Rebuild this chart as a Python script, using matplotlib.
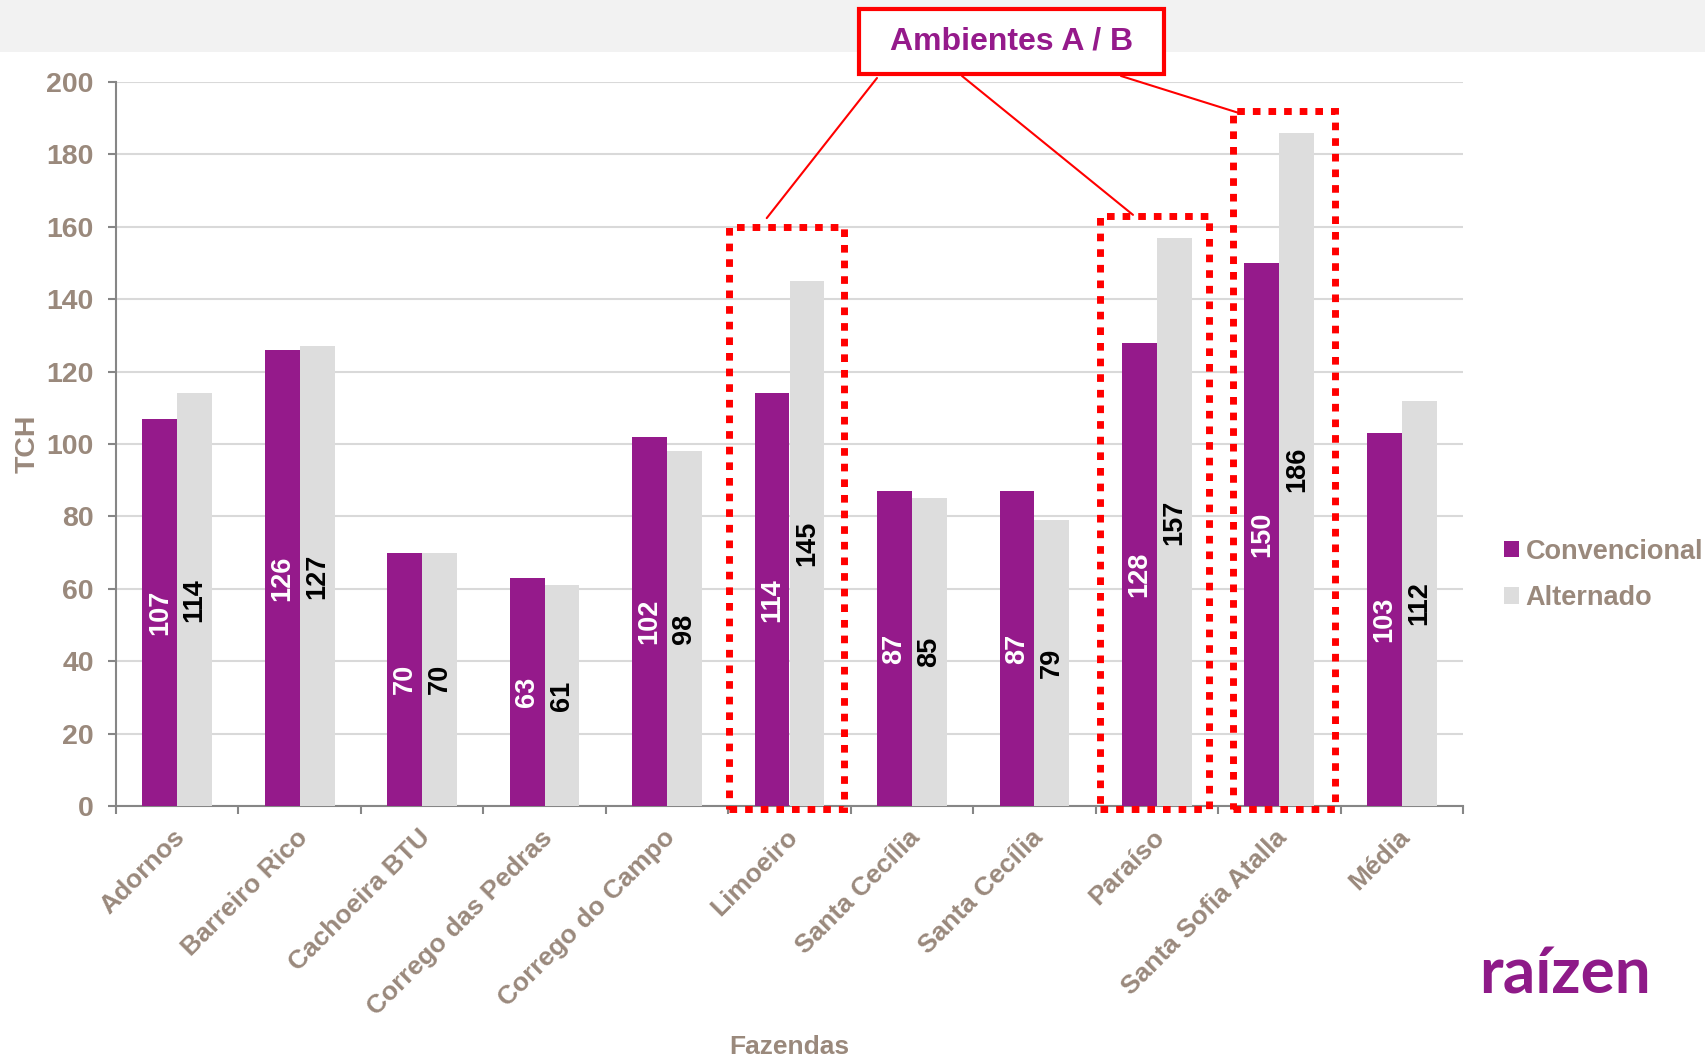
import matplotlib
matplotlib.use("Agg")
import matplotlib.pyplot as plt
import numpy as np
from matplotlib.patches import Rectangle, ConnectionPatch

plt.rcParams['font.family'] = ['Liberation Sans', 'DejaVu Sans']
plt.rcParams['font.weight'] = 'bold'

categories = ["Adornos", "Barreiro Rico", "Cachoeira BTU", "Corrego das Pedras",
              "Corrego do Campo", "Limoeiro", "Santa Cecília", "Santa Cecília",
              "Paraíso", "Santa Sofia Atalla", "Média"]
convencional = [107, 126, 70, 63, 102, 114, 87, 87, 128, 150, 103]
alternado = [114, 127, 70, 61, 98, 145, 85, 79, 157, 186, 112]
series_names = ["Convencional", "Alternado"]
highlight_idx = [5, 8, 9]
highlight_top = [160, 163, 192]
yticks = list(range(0, 201, 20))

PURPLE = "#951a8b"
GRAY = "#dddddd"
TXT = "#9a897c"
RED = "#ff0000"

W, H = 1706, 1058
fig = plt.figure(figsize=(W / 100, H / 100), dpi=100)
fig.patch.set_facecolor("white")

# top grey band
fig.add_artist(Rectangle((0, 1 - 52 / H), 1, 52 / H, transform=fig.transFigure,
                         facecolor="#f2f2f2", edgecolor="none", zorder=0))

ax = fig.add_axes([116 / W, 1 - 806 / H, (1463 - 116) / W, (806 - 82) / H])
x = np.arange(len(categories))
bw = 0.285
b1 = ax.bar(x - bw / 2, convencional, bw, color=PURPLE, label=series_names[0], zorder=3)
b2 = ax.bar(x + bw / 2, alternado, bw, color=GRAY, label=series_names[1], zorder=3)

for rect, v in zip(b1, convencional):
    ax.text(rect.get_x() + rect.get_width() / 2, v / 2, str(v), rotation=90,
            ha="center", va="center", color="white", fontsize=19.5, fontweight="bold", zorder=4)
for rect, v in zip(b2, alternado):
    ax.text(rect.get_x() + rect.get_width() / 2, v / 2, str(v), rotation=90,
            ha="center", va="center", color="black", fontsize=19.5, fontweight="bold", zorder=4)

ax.set_xlim(-0.5, len(categories) - 0.5)
ax.set_ylim(0, 200)
ax.set_yticks(yticks)
ax.yaxis.grid(True, color="#d9d9d9", lw=1.5, zorder=0)
ax.set_axisbelow(True)
for s in ["top", "right"]:
    ax.spines[s].set_visible(False)
for s in ["left", "bottom"]:
    ax.spines[s].set_color("#868686")
    ax.spines[s].set_linewidth(1.5)

ax.tick_params(axis="y", colors="#868686", labelcolor=TXT, labelsize=20.5, length=6,
               width=1.5, pad=10)
ax.set_xticks(np.arange(-0.5, len(categories)), minor=False)
ax.set_xticklabels([])
ax.tick_params(axis="x", which="major", colors="#868686", length=6, width=1.5)
# category labels, end of text sitting just right of the group centre
ax.set_xticks(x + 0.035, minor=True)
ax.set_xticklabels(categories, minor=True, rotation=45, ha="right", va="center",
                   rotation_mode="anchor", color=TXT, fontsize=19, fontweight="bold")
ax.tick_params(axis="x", which="minor", length=0, pad=20)
for lab in ax.get_yticklabels():
    lab.set_fontweight("bold")

ax.set_ylabel("TCH", color=TXT, fontsize=20.5, fontweight="bold", labelpad=4)
ax.set_xlabel("Fazendas", color=TXT, fontsize=19, fontweight="bold")
ax.xaxis.set_label_coords(0.5, -(1047 - 806) / (806 - 82))
ax.xaxis.label.set_va("center")

# dotted highlight boxes
box_left_off = {5: 0.004, 8: 0.036, 9: 0.125}
box_right_off = {5: 0.445, 8: 0.424, 9: 0.452}
for i, top in zip(highlight_idx, highlight_top):
    left = i - 0.5 + box_left_off[i]
    right = i + box_right_off[i]
    r = Rectangle((left, -0.8), right - left, top + 0.8, fill=False, edgecolor=RED,
                  lw=5.0, linestyle=(0, (1.1, 1.15)), clip_on=False, zorder=5)
    r.set_capstyle("butt")
    ax.add_patch(r)

# annotation box
bx0, bx1, by0, by1 = 859, 1164, 9, 74
fig.add_artist(Rectangle((bx0 / W, 1 - by1 / H), (bx1 - bx0) / W, (by1 - by0) / H,
                         transform=fig.transFigure, facecolor="white", edgecolor=RED,
                         lw=3, zorder=6))
fig.text((bx0 + bx1) / 2 / W, 1 - 41 / H, "Ambientes A / B", color=PURPLE,
         fontsize=23, fontweight="bold", ha="center", va="center", zorder=7)

# connector lines
starts = [(877, 78), (962, 76), (1121, 76)]
ends = [(4.814, 162.4), (7.805, 163.3), (8.693, 191.2)]
for (sx, sy), (ex, ey) in zip(starts, ends):
    cp = ConnectionPatch(xyA=(sx / W, 1 - sy / H), coordsA="figure fraction",
                         xyB=(ex, ey), coordsB="data", axesB=ax,
                         color=RED, lw=1.5, zorder=6)
    fig.add_artist(cp)

# legend
leg = fig.legend(handles=[b1, b2], labels=series_names, loc="center left",
                 bbox_to_anchor=(1493 / W, 1 - 575 / H), frameon=False,
                 fontsize=19.5, handlelength=0.55, handleheight=0.55,
                 handletextpad=0.25, labelspacing=0.75, borderaxespad=0)
for t in leg.get_texts():
    t.set_color(TXT)
    t.set_fontweight("bold")

# logo
fig.text(1565 / W, 1 - 975 / H, "raízen", color="#8e1a88", fontsize=46,
         fontweight="bold", family=["Lato", "DejaVu Sans"], ha="center", va="center")

fig.savefig("out.png", dpi=100)
